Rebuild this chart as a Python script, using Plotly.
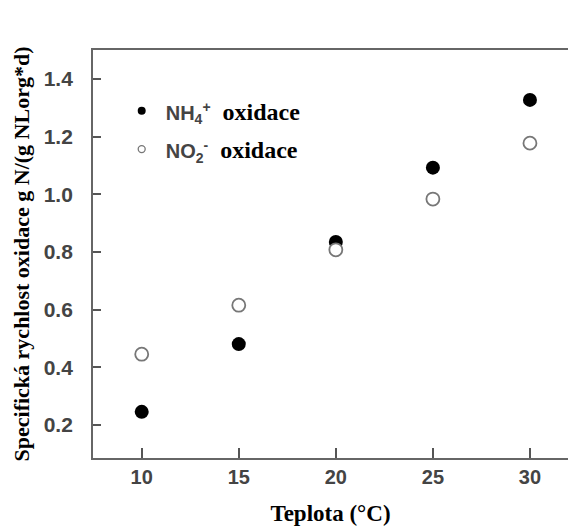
import plotly.graph_objects as go

teplota = [10, 15, 20, 25, 30]
nh4_oxidace = [0.245, 0.48, 0.834, 1.092, 1.327]
no2_oxidace = [0.445, 0.615, 0.807, 0.983, 1.177]

x_ticks = [10, 15, 20, 25, 30]
y_ticks = [0.2, 0.4, 0.6, 0.8, 1.0, 1.2, 1.4]
y_ticklabels = ["0.2", "0.4", "0.6", "0.8", "1.0", "1.2", "1.4"]

sty = "font-family:Arial;font-weight:bold;font-size:20px;fill:#444"
nh4_name = f"<span style='{sty}'>NH<sub>4</sub><sup>+</sup></span>  <b>oxidace</b>"
no2_name = f"<span style='{sty}'>NO<sub>2</sub><sup>-</sup></span>  <b>oxidace</b>"

fig = go.Figure()
fig.add_trace(go.Scatter(x=teplota, y=nh4_oxidace, mode="markers", showlegend=False,
                         marker=dict(size=14, color="black", line=dict(width=0))))
fig.add_trace(go.Scatter(x=teplota, y=no2_oxidace, mode="markers", showlegend=False,
                         marker=dict(size=13, color="white", line=dict(width=1.8, color="#777"))))
# legend entries
fig.add_trace(go.Scatter(x=[None], y=[None], mode="markers", name=nh4_name, legendgroup="a",
                         marker=dict(size=8, color="black", line=dict(width=0))))
fig.add_trace(go.Scatter(x=[None], y=[None], mode="markers", name=no2_name, legendgroup="b",
                         marker=dict(size=7, color="white", line=dict(width=1.3, color="#777"))))

fig.update_layout(
    width=568, height=526,
    margin=dict(l=93, r=0, t=50, b=68),
    paper_bgcolor="white", plot_bgcolor="white",
    font=dict(family="Liberation Serif", color="black", size=18),
    legend=dict(x=0.052, y=0.905, xanchor="left", yanchor="top",
                bgcolor="rgba(0,0,0,0)", font=dict(family="Liberation Serif", size=24, color="black"),
                tracegroupgap=4, itemwidth=38),
    xaxis=dict(range=[7.49, 31.96], tickvals=x_ticks, ticks="inside", ticklen=10, tickwidth=1.5,
               tickcolor="#555", showline=True, linecolor="#666", linewidth=1.8, mirror=True,
               showgrid=False, zeroline=False, ticklabelstandoff=0,
               tickfont=dict(family="Arial", size=20, color="#444", weight="bold"),
               title=dict(text="<b>Teplota (°C)</b>", font=dict(family="Liberation Serif", size=23),
                          standoff=20)),
    yaxis=dict(range=[0.085, 1.5], tickvals=y_ticks, ticktext=y_ticklabels, ticks="inside",
               ticklen=8, tickwidth=1.5, tickcolor="#555", showline=True, linecolor="#666",
               linewidth=1.8, showgrid=False, zeroline=False, ticklabelstandoff=14,
               tickfont=dict(family="Arial", size=21, color="#444", weight="bold"),
               title=dict(text="<b>Specifická rychlost oxidace g N/(g NLorg*d)</b>",
                          font=dict(family="Liberation Serif", size=22), standoff=8)),
)

fig.write_html("out.html")
